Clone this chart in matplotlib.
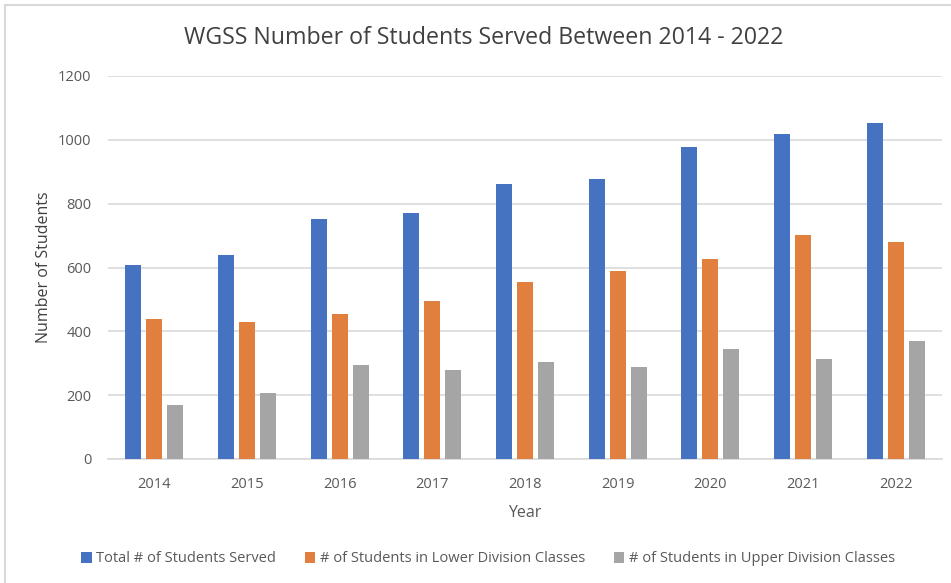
import matplotlib
matplotlib.use("Agg")
import matplotlib.pyplot as plt
import numpy as np
from matplotlib.patches import Rectangle

years = ["2014", "2015", "2016", "2017", "2018", "2019", "2020", "2021", "2022"]
total_served = [608, 638, 751, 772, 862, 877, 976, 1018, 1053]
lower_division = [440, 428, 455, 494, 556, 589, 628, 703, 679]
upper_division = [168, 206, 293, 279, 305, 288, 345, 313, 371]
series_names = ["Total # of Students Served",
                "# of Students in Lower Division Classes",
                "# of Students in Upper Division Classes"]
colors = ["#4672C2", "#E07F3E", "#A5A5A5"]

plt.rcParams['font.family'] = ['Open Sans', 'DejaVu Sans']

fig = plt.figure(figsize=(9.51, 5.83), dpi=100)
ax = fig.add_axes([108/951, 1 - 459/583, (942 - 108)/951, (459 - 76)/583])

x = np.arange(len(years))
w = 0.172
off = 0.227
for i, (vals, name, c) in enumerate(zip([total_served, lower_division, upper_division], series_names, colors)):
    ax.bar(x + (i - 1) * off, vals, width=w, color=c, label=name, zorder=3)

ax.set_xlim(-0.5, len(years) - 0.5)
ax.set_ylim(0, 1200)
ax.set_yticks(range(0, 1201, 200))
ax.set_xticks(x)
ax.set_xticklabels(years)
ax.grid(axis='y', color='#D9D9D9', linewidth=1.2, zorder=0)
for s in ['top', 'right', 'left']:
    ax.spines[s].set_visible(False)
ax.spines['bottom'].set_color('#D9D9D9')
ax.spines['bottom'].set_linewidth(1.2)
ax.tick_params(axis='both', length=0, labelsize=10.5, labelcolor='#595959')
ax.tick_params(axis='x', pad=13)
ax.tick_params(axis='y', pad=12)

ax.set_xlabel("Year", fontsize=11.5, color='#595959', labelpad=9)
ax.set_ylabel("Number of Students", fontsize=11.5, color='#404040', labelpad=4)

fig.text(484/951, 1 - 38/583, "WGSS Number of Students Served Between 2014 - 2022",
         ha='center', va='center', fontsize=16.7, color='#404040')

leg = fig.legend(loc='center', bbox_to_anchor=(488/951, 1 - 559/583), ncol=3,
                 frameon=False, fontsize=10.5, handlelength=0.7, handleheight=0.7,
                 handletextpad=0.3, columnspacing=2.0)
for t in leg.get_texts():
    t.set_color('#595959')

fig.patches.append(Rectangle((5/951, -0.1), 1.2, 1 - 5/583 + 0.1, transform=fig.transFigure,
                             fill=False, edgecolor='#D9D9D9', linewidth=1.5))

fig.savefig("out.png", dpi=100)
